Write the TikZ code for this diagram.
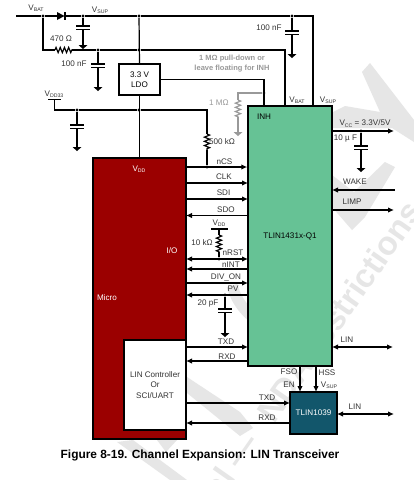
\documentclass[tikz,border=0pt]{standalone}
\usepackage{fontspec}
\setmainfont{Liberation Sans}
\usetikzlibrary{arrows.meta,decorations.pathmorphing,calc}
\definecolor{microred}{HTML}{9B0000}
\definecolor{chipgreen}{HTML}{66C295}
\definecolor{chipteal}{HTML}{12566B}
\definecolor{wm}{HTML}{E6E6E6}
\definecolor{graywire}{HTML}{999999}
\definecolor{lbl}{HTML}{333333}
\newcommand{\vsub}[2]{#1\raisebox{-1.3pt}{\fontsize{5.2}{6}\selectfont #2}}
\newcommand{\capgnd}[5][black]{%
  \draw[wire,#1] (#2) -- (#3,#4);
  \draw[wire,#1] ($(#3,#4)+(-7,0)$) -- +(14,0);
  \draw[wire,#1] ($(#3,#4)+(-7,3.4)$) -- +(14,0);
  \draw[wire,#1] (#3,#4+3.4) -- (#3,#5);
  \fill[#1] (#3-4.5,#5) -- (#3+4.5,#5) -- (#3,#5+4) -- cycle;}
\tikzset{
  wire/.style={line width=1.2pt,draw=black},
  sig/.style={line width=1.2pt,draw=black},
  right tip/.style={-{Latex[length=6pt,width=5.5pt]}},
  left tip/.style={{Latex[length=6pt,width=5.5pt]}-},
  both tips/.style={{Latex[length=6pt,width=5.5pt]}-{Latex[length=6pt,width=5.5pt]}},
  zz/.style={decorate,decoration={zigzag,amplitude=2.6pt,segment length=4.2pt}},
  dot/.style={circle,fill=black,inner sep=0pt,minimum size=3.4pt},
  lab/.style={text=lbl,font=\fontsize{8.1}{9.5}\selectfont,inner sep=0pt,align=center},
  box/.style={draw=black,line width=1.4pt,rectangle,inner sep=0pt},
  wmtext/.style={text=wm,font=\bfseries\fontsize{33}{36}\selectfont,rotate=55,inner sep=0pt},
}
\begin{document}
\begin{tikzpicture}[x=1pt,y=-1pt]
\useasboundingbox (0,0) rectangle (414,480);
\fill[white] (0,0) rectangle (414,480);
% watermark
\begin{scope}
\clip (0,0) rectangle (414,480);
\fill[wm] (370,63) -- (414,120) -- (414,142) -- (392,128) -- (333,128) -- (333,112) -- (345,106) -- (380,112) -- (362,72) -- cycle;
\fill[wm] (385,162) -- (395,167) -- (365,217) -- (352,230) -- (332,207) -- (332,175) -- (354,192) -- cycle;
\fill[wm] (187,377) -- (240,412) -- (253,428) -- (240,436) -- (187,393) -- cycle;
\fill[wm] (117,442) -- (133,440) -- (187,480) -- (170,480) -- cycle;
\fill[wm] (157,440) -- (177,440) -- (166,452) -- cycle;
\draw[wm,line width=11pt] (290,270) ++(165:60) arc[start angle=165,end angle=115,radius=60];
\node[wmtext,anchor=base west] at (274,425) {NDA restrictions};
\node[wmtext,anchor=base east] at (261,443) {al —};
\end{scope}
% nodes
\node[box,fill=microred,minimum width=93pt,minimum height=281pt] (micro) at (139.5,298.5) {};
\node[box,fill=white,minimum width=62pt,minimum height=90pt,line width=1.1pt] (linc) at (155,385) {};
\node[box,fill=chipgreen,minimum width=84pt,minimum height=260pt] (tlin) at (290,236) {};
\node[box,fill=chipteal,minimum width=47pt,minimum height=42pt] (xcvr) at (313.5,413) {};
\node[box,fill=white,minimum width=41pt,minimum height=31pt] (ldo) at (139.5,79.5) {};
\node[lab,text=black] (ldotxt) at (ldo) {3.3 V\\[0.5pt]LDO};
\node[lab,text=lbl] (linctxt) at (155,385) {LIN Controller\\[1.2pt]Or\\[1.2pt]SCI/UART};
\node[lab,text=black] (tlintxt) at (290,236) {TLIN1431x-Q1};
\node[lab,text=white] (xcvrtxt) at (313.5,413) {TLIN1039};
\node[lab,text=black] (inh) at (264,117) {INH};
\node[lab,text=white] (vdd) at (139,169.5) {\vsub{V}{DD}};
\node[lab,text=white] (io) at (172,250.5) {I/O};
\node[lab,text=white] (mtxt) at (107,298) {Micro};
% junction coordinates
\coordinate (vin) at (16,16);
\coordinate (vsupR) at (313,16);
\coordinate (vbatR) at (285,50);
\node[dot] (jbat) at (43,16) {};
\node[dot] (jsup) at (83,16) {};
\node[dot] (jtop) at (139,16) {};
\node[dot] (jcap) at (292,16) {};
\node[dot] (j50a) at (98,50) {};
\node[dot] (j50b) at (139,50) {};
\node[dot] (j110a) at (77,110) {};
\node[dot] (j110b) at (139,110) {};
\node[dot] (jcs) at (207,167) {};
\node[dot] (jrst) at (219,259) {};
\node[dot] (jpv) at (225,295) {};
\node[dot] (jvcc) at (361,131) {};
\node[circle,fill=graywire,inner sep=0pt,minimum size=3.4pt] (jinh) at (264,93) {};
% top rail
\draw[wire] (vin) -- (jbat) -- (57,16);
\fill (57,12) -- (57,20) -- (64.5,16) -- cycle;
\draw[wire] (65,12) -- (65,20);
\draw[wire] (65,16) -- (jsup) -- (jtop) -- (jcap) -- (vsupR) -- (tlin.north -| vsupR);
\capgnd{jsup}{83}{26}{45}
\capgnd{j50a}{98}{64}{87}
\capgnd{jcap}{292}{31}{54}
\capgnd{j110a}{77}{125}{147}
\capgnd{jvcc}{361}{146}{168}
\capgnd{jpv}{225}{309}{333}
% VBAT branch
\draw[wire] (jbat) |- (55,50);
\draw[wire,zz] (55,50) -- (72,50);
\draw[wire] (72,50) -- (j50a) -- (j50b) -- (vbatR) -- (tlin.north -| vbatR);
% LDO and rails
\draw[wire] (jtop) -- (ldo.north);
\draw[wire] (ldo.south) -- (micro.north -| ldo.south);
\draw[wire] (ldo.east) -| (tlin.north -| jinh);
% VDD33
\draw[wire] (48,99.5) -- (61,99.5);
\draw[wire] (54.5,99.5) |- (j110a);
\draw[wire] (j110a) -- (j110b) -- (207,110) -- (207,134);
\draw[wire,zz] (207,134) -- (207,150);
\draw[wire] (207,150) -- (jcs);
% gray pull-down
\draw[line width=1.2pt,graywire] (jinh) -| (238,100);
\draw[line width=1.2pt,graywire,zz] (238,100) -- (238,117);
\draw[line width=1.2pt,graywire] (238,117) -- (238,132);
\fill[graywire] (233.5,132) -- (242.5,132) -- (238,136) -- cycle;
% signals
\draw[sig,right tip] (micro.east |- jcs) -- (tlin.west |- jcs);
\draw[sig,right tip] (186,183) -- (248,183);
\draw[sig,right tip] (186,199) -- (248,199);
\draw[sig,left tip] (186,215.5) -- (248,215.5);
\draw[sig,both tips] (186,259) -- (248,259);
\draw[sig,left tip] (186,269) -- (248,269);
\draw[sig,right tip] (186,283) -- (248,283);
\draw[sig,left tip] (186,295) -- (248,295);
\draw[sig,right tip] (186,347) -- (248,347);
\draw[sig,left tip] (186,361) -- (248,361);
\draw[sig,right tip] (186,403) -- (290,403);
\draw[sig,left tip] (186,423) -- (290,423);
\draw[wire] (211,229) -- (228,229);
\draw[wire] (219,229) -- (219,235);
\draw[wire,zz] (219,235) -- (219,252);
\draw[wire] (219,252) -- (jrst);
\draw[sig,right tip] (300,366) -- (300,392);
\draw[sig,right tip] (316,366) -- (316,392);
\draw[sig,both tips] (332,347) -- (393,347);
\draw[sig,both tips] (337,414) -- (394,414);
\draw[sig,right tip] (tlin.east |- jvcc) -- (394,131);
\draw[sig,left tip] (332,190) -- (395,190);
\draw[sig,right tip] (332,210) -- (394,210);
% labels
\node[lab] at (36,8) {\vsub{V}{BAT}};
\node[lab] at (100,10) {\vsub{V}{SUP}};
\node[lab] at (61,39) {470 Ω};
\node[lab] at (74,64) {100 nF};
\node[lab] at (54,94) {\vsub{V}{DD33}};
\node[lab] at (269,28) {100 nF};
\node[lab,text=graywire,font=\bfseries\fontsize{7.5}{9.3}\selectfont] at (232,63.5) {1 MΩ pull-down or\\[0pt]leave floating for INH};
\node[lab,text=graywire] at (219,103) {1 MΩ};
\node[lab] at (222,142) {500 kΩ};
\node[lab] at (297,100) {\vsub{V}{BAT}};
\node[lab] at (328,100) {\vsub{V}{SUP}};
\node[lab] at (365,123.5) {\vsub{V}{CC} = 3.3V/5V};
\node[lab] at (345.5,138.5) {10 µ F};
\node[lab] at (355,182) {WAKE};
\node[lab] at (352,202) {LIMP};
\node[lab] at (224.5,162) {nCS};
\node[lab] at (224,177) {CLK};
\node[lab] at (223.5,193) {SDI};
\node[lab] at (226,210) {SDO};
\node[lab] at (219,223) {\vsub{V}{DD}};
\node[lab] at (202,243) {10 kΩ};
\node[lab] at (233,253) {nRST};
\node[lab] at (231,265) {nINT};
\node[lab] at (226,277) {DIV\_ON};
\node[lab] at (233,289) {PV};
\node[lab] at (208,304) {20 pF};
\node[lab] at (226,342) {TXD};
\node[lab] at (227,356.5) {RXD};
\node[lab] at (267,397.5) {TXD};
\node[lab] at (267,417.5) {RXD};
\node[lab] at (289,372) {FSO};
\node[lab] at (289,384.5) {EN};
\node[lab] at (327,373) {HSS};
\node[lab] at (329,385.5) {\vsub{V}{SUP}};
\node[lab] at (347,340) {LIN};
\node[lab] at (355,407) {LIN};
\node[text=black,font=\bfseries\fontsize{11.9}{13}\selectfont,inner sep=0pt] (cap) at (200,455.5) {Figure 8-19. Channel Expansion: LIN Transceiver};
\end{tikzpicture}
\end{document}
